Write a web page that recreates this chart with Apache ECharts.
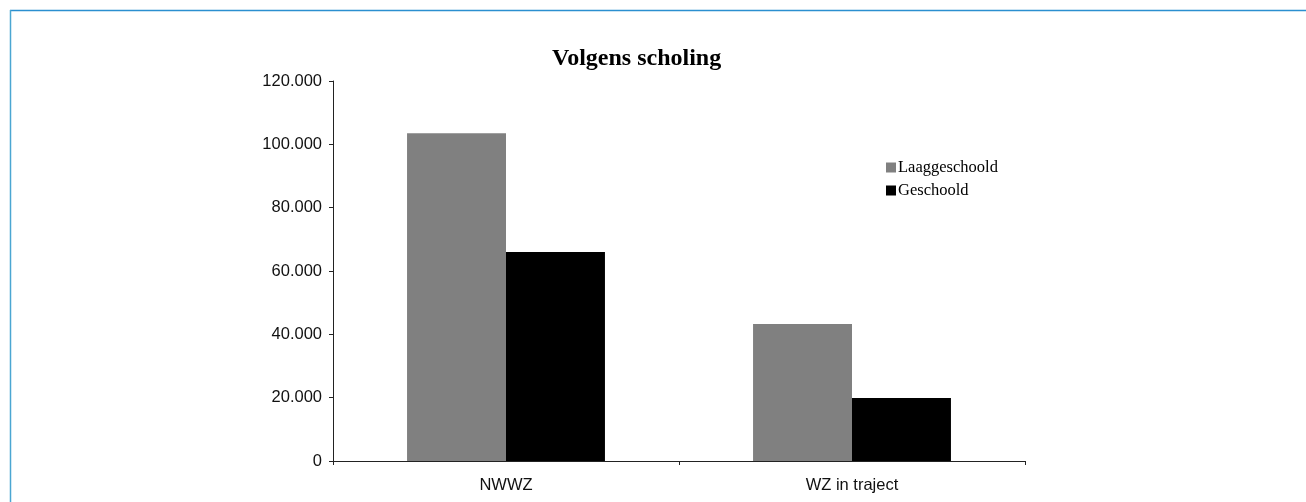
<!DOCTYPE html>
<html>
<head>
<meta charset="utf-8">
<script src="https://cdn.jsdelivr.net/npm/echarts@6/dist/echarts.min.js"></script>
<style>
html,body{margin:0;padding:0;background:#fff;}
#chart{width:1306px;height:502px;}
</style>
</head>
<body>
<div id="chart"></div>
<script>
const categories = ['NWWZ', 'WZ in traject'];
const seriesNames = ['Laaggeschoold', 'Geschoold'];
const laaggeschoold = [103500, 43300];
const geschoold = [66000, 19900];
const yTicks = [0, 20000, 40000, 60000, 80000, 100000, 120000];

function fmt(v) {
  return String(v).replace(/\B(?=(\d{3})+(?!\d))/g, '.');
}

const chart = echarts.init(document.getElementById('chart'), null, {renderer: 'canvas'});
chart.setOption({
  backgroundColor: '#ffffff',
  animation: false,
  title: {
    text: 'Volgens scholing',
    left: 552,
    top: 47,
    padding: 0,
    textStyle: {fontFamily: 'Liberation Serif', fontWeight: 'bold', fontSize: 24, color: '#000'}
  },
  legend: {
    orient: 'vertical',
    left: 886,
    top: 159,
    padding: 0,
    itemWidth: 10,
    itemHeight: 10,
    itemGap: 6,
    icon: 'rect',
    data: seriesNames,
    textStyle: {fontFamily: 'Liberation Serif', fontSize: 16.5, color: '#000', padding: [0, 0, 0, -3]}
  },
  grid: {left: 333, right: 281, top: 81, bottom: 41, containLabel: false},
  xAxis: {
    type: 'category',
    data: categories,
    axisLine: {lineStyle: {color: '#222', width: 1}},
    axisTick: {show: true, length: 4, lineStyle: {color: '#222'}},
    axisLabel: {fontFamily: 'Liberation Sans', fontSize: 16.5, color: '#111', margin: 16},
    splitLine: {show: false}
  },
  yAxis: {
    type: 'value',
    min: yTicks[0],
    max: yTicks[yTicks.length - 1],
    interval: yTicks[1] - yTicks[0],
    axisLine: {show: true, lineStyle: {color: '#222', width: 1}},
    axisTick: {show: true, length: 4, lineStyle: {color: '#222'}},
    axisLabel: {fontFamily: 'Liberation Sans', fontSize: 16.5, color: '#111', margin: 11, formatter: fmt},
    splitLine: {show: false}
  },
  series: [
    {name: seriesNames[0], type: 'bar', data: laaggeschoold, barGap: '0%', barCategoryGap: '42.8%', itemStyle: {color: '#808080'}},
    {name: seriesNames[1], type: 'bar', data: geschoold, barGap: '0%', barCategoryGap: '42.8%', itemStyle: {color: '#000000'}}
  ],
  graphic: [
    {type: 'line', shape: {x1: 10, y1: 10.5, x2: 1306, y2: 10.5}, style: {stroke: '#2b8fd0', lineWidth: 1.5}},
    {type: 'line', shape: {x1: 10.5, y1: 10, x2: 10.5, y2: 502}, style: {stroke: '#4aa6d2', lineWidth: 1.5}}
  ]
});
</script>
</body>
</html>
